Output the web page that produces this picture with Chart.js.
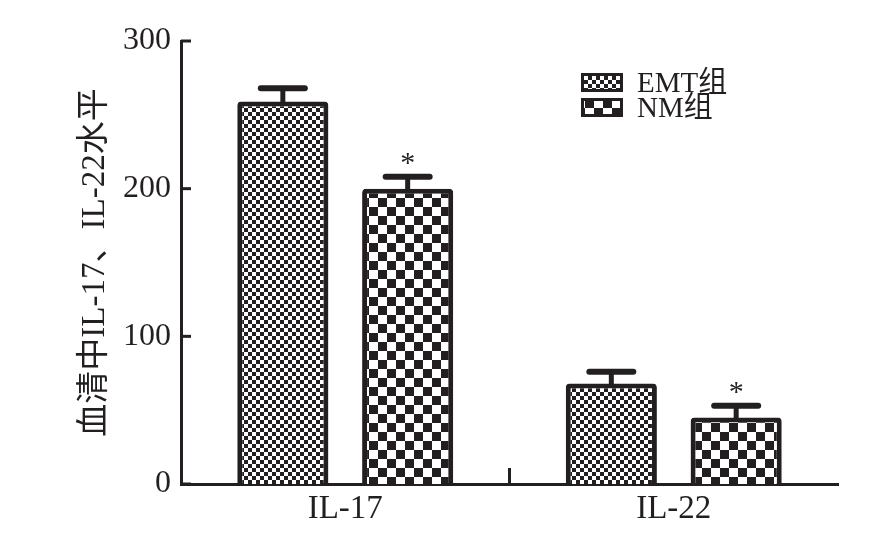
<!DOCTYPE html>
<html>
<head>
<meta charset="utf-8">
<script src="https://cdn.jsdelivr.net/npm/chart.js@4.4.1/dist/chart.umd.min.js"></script>
<style>
  html, body { margin: 0; padding: 0; background: #fff; }
</style>
</head>
<body>
<canvas id="grafico" width="879" height="548"></canvas>
<script>
// Datos
const categorias = ['IL-17', 'IL-22'];
const nombresSeries = ['EMT组', 'NM组'];
const valoresEMT = [259, 68];
const erroresEMT = [9, 8];
const valoresNM = [200, 45];
const erroresNM = [8, 8];
const marcasNM = ['*', '*'];
const ticksY = [0, 100, 200, 300];

const NEGRO = '#231f20';
const FUENTE = "'Liberation Serif', 'Noto Sans CJK SC', serif";

// Patrón de tablero de ajedrez (tamaño de celda en px)
function crearPatron(celda) {
    const c = document.createElement('canvas');
    c.width = celda * 2;
    c.height = celda * 2;
    const g = c.getContext('2d');
    g.fillStyle = '#fff';
    g.fillRect(0, 0, c.width, c.height);
    g.fillStyle = NEGRO;
    g.fillRect(0, 0, celda, celda);
    g.fillRect(celda, celda, celda, celda);
    return g.createPattern(c, 'repeat');
}

const ctxBase = document.getElementById('grafico').getContext('2d');
const patronEMT = crearPatron(4);
const patronNM = crearPatron(9);
const patrones = [patronEMT, patronNM];

// Barras de error, marcas, ticks internos y leyenda
const pluginExtras = {
    id: 'extras',
    afterDatasetsDraw(chart) {
        const ctx = chart.ctx;
        const ejeY = chart.scales.y;
        const ejeX = chart.scales.x;
        const valores = [valoresEMT, valoresNM];
        const errores = [erroresEMT, erroresNM];

        ctx.save();
        ctx.strokeStyle = NEGRO;
        ctx.fillStyle = NEGRO;
        ctx.lineCap = 'round';

        chart.data.datasets.forEach((ds, i) => {
            chart.getDatasetMeta(i).data.forEach((barra, j) => {
                const yTope = ejeY.getPixelForValue(valores[i][j] + errores[i][j]);
                ctx.lineWidth = 5;
                ctx.beginPath();
                ctx.moveTo(barra.x, barra.y);
                ctx.lineTo(barra.x, yTope);
                ctx.stroke();
                ctx.lineWidth = 6;
                ctx.beginPath();
                ctx.moveTo(barra.x - 22, yTope);
                ctx.lineTo(barra.x + 22, yTope);
                ctx.stroke();
                if (i === 1 && marcasNM[j]) {
                    ctx.font = '30px ' + FUENTE;
                    ctx.textAlign = 'center';
                    ctx.textBaseline = 'middle';
                    ctx.fillText(marcasNM[j], barra.x, yTope - 13);
                }
            });
        });

        // ticks del eje Y hacia adentro
        ctx.lineCap = 'butt';
        ctx.lineWidth = 3;
        ticksY.forEach(v => {
            const py = ejeY.getPixelForValue(v);
            ctx.beginPath();
            ctx.moveTo(ejeX.left, py);
            ctx.lineTo(ejeX.left + 10, py);
            ctx.stroke();
        });

        // tick entre categorías
        const medio = (ejeX.getPixelForValue(0) + ejeX.getPixelForValue(1)) / 2;
        ctx.beginPath();
        ctx.moveTo(medio, ejeY.bottom);
        ctx.lineTo(medio, ejeY.bottom - 16);
        ctx.stroke();

        // leyenda
        const area = chart.chartArea;
        const lx = area.right - 257;
        const ly = area.top + 32;
        nombresSeries.forEach((nombre, i) => {
            const y0 = ly + i * 25;
            ctx.fillStyle = patrones[i];
            ctx.fillRect(lx, y0, 42, 19);
            ctx.lineWidth = 3;
            ctx.strokeStyle = NEGRO;
            ctx.strokeRect(lx + 1.5, y0 + 1.5, 39, 16);
            ctx.fillStyle = NEGRO;
            ctx.font = '29px ' + FUENTE;
            ctx.textAlign = 'left';
            ctx.textBaseline = 'middle';
            ctx.fillText(nombre, lx + 56, y0 + 11);
        });
        ctx.restore();
    }
};

new Chart(ctxBase, {
    type: 'bar',
    data: {
        labels: categorias,
        datasets: [
            {
                label: nombresSeries[0],
                data: valoresEMT,
                backgroundColor: patronEMT,
                borderColor: NEGRO,
                borderWidth: 5,
                borderRadius: 4,
                borderSkipped: 'start',
                categoryPercentage: 0.76,
                barPercentage: 0.73
            },
            {
                label: nombresSeries[1],
                data: valoresNM,
                backgroundColor: patronNM,
                borderColor: NEGRO,
                borderWidth: 5,
                borderRadius: 4,
                borderSkipped: 'start',
                categoryPercentage: 0.76,
                barPercentage: 0.73
            }
        ]
    },
    options: {
        responsive: false,
        animation: false,
        layout: { padding: { top: 41, right: 41, left: 0, bottom: 0 } },
        plugins: {
            legend: { display: false },
            tooltip: { enabled: false }
        },
        scales: {
            x: {
                grid: { display: false, drawTicks: false },
                border: { display: true, color: NEGRO, width: 3 },
                ticks: { color: NEGRO, font: { family: FUENTE, size: 33 }, padding: 6 },
                afterFit(escala) { escala.height = 64; }
            },
            y: {
                min: 0,
                max: 300,
                grid: { display: false, drawTicks: false },
                border: { display: true, color: NEGRO, width: 3 },
                ticks: { stepSize: 100, color: NEGRO, font: { family: FUENTE, size: 32 }, padding: 10 },
                title: {
                    display: true,
                    text: '血清中IL-17、IL-22水平',
                    color: NEGRO,
                    font: { family: FUENTE, size: 33 },
                    padding: { top: 76, bottom: 0 }
                },
                afterFit(escala) { escala.width = 181; }
            }
        }
    },
    plugins: [pluginExtras]
});
</script>
</body>
</html>
